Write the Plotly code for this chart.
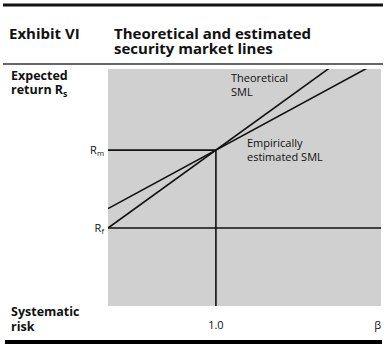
import plotly.graph_objects as go

# data (arbitrary units)
beta_m = 1.0
r_f = 1.0
r_m = 2.0
emp_intercept = 1.25
beta_end = 2.6
x_range = [0, 2.53]
y_range = [0, 3.04]
x_tickvals = [1.0, 2.5]
x_ticktext = ["1.0", "β"]
y_tickvals = [r_f, r_m]
y_ticktext = ["R<sub>f</sub>", "R<sub>m</sub>"]

W, H = 390, 352
L, R, T, B = 108, 381, 69, 306

def px(x):
    return (x - L) / (R - L)

def py(y):
    return (B - y) / (B - T)

theo_x = [0, beta_end]
theo_y = [r_f, r_f + (r_m - r_f) * beta_end]
emp_slope = (r_m - emp_intercept) / beta_m
emp_x = [0, beta_end]
emp_y = [emp_intercept, emp_intercept + emp_slope * beta_end]

line = dict(color="#111111", width=1.6)
fig = go.Figure()
fig.add_trace(go.Scatter(x=theo_x, y=theo_y, mode="lines", line=line))
fig.add_trace(go.Scatter(x=emp_x, y=emp_y, mode="lines", line=line))
fig.add_trace(go.Scatter(x=[0, beta_m, beta_m], y=[r_m, r_m, 0], mode="lines", line=line))
fig.add_trace(go.Scatter(x=[0, x_range[1]], y=[r_f, r_f], mode="lines", line=line))

bold = dict(family="Open Sans", size=15, color="#111111", weight="bold")
side = dict(family="Open Sans", size=12.5, color="#111111", weight="bold")
small = dict(family="Open Sans", size=11, color="#111111")

shapes = [
    dict(type="line", xref="paper", yref="paper", x0=px(3), x1=px(383), y0=py(5), y1=py(5),
         line=dict(color="#111111", width=3)),
    dict(type="line", xref="paper", yref="paper", x0=px(3), x1=px(383), y0=py(64), y1=py(64),
         line=dict(color="#333333", width=1.5)),
    dict(type="line", xref="paper", yref="paper", x0=px(5), x1=px(382), y0=py(342), y1=py(342),
         line=dict(color="#000000", width=4)),
]

ann = []
def add(text, x, y, font, xanchor="left"):
    ann.append(dict(text=text, x=px(x), y=py(y), xref="paper", yref="paper",
                    xanchor=xanchor, yanchor="middle", showarrow=False, font=font, align="left"))

add("Exhibit VI", 7, 33, bold)
add("Theoretical and estimated", 112, 33, bold)
add("security market lines", 112, 48, bold)
add("Expected", 9, 75, side)
add("return R<sub>s</sub>", 9, 90, side)
add("Systematic", 9, 311, side)
add("risk", 9, 326, side)
add("Theoretical", 229, 77, small)
add("SML", 229, 91, small)
add("Empirically", 245, 142, small)
add("estimated SML", 245, 156, small)

fig.update_layout(
    width=W, height=H,
    margin=dict(l=L, r=W - R, t=T, b=H - B, pad=0),
    paper_bgcolor="white", plot_bgcolor="#d0d0d0",
    showlegend=False,
    shapes=shapes, annotations=ann,
    xaxis=dict(range=x_range, showgrid=False, zeroline=False, showline=False, ticks="",
               tickvals=x_tickvals, ticktext=x_ticktext, tickfont=small, ticklabelstandoff=11,
               fixedrange=True),
    yaxis=dict(range=y_range, showgrid=False, zeroline=False, showline=False, ticks="",
               tickvals=y_tickvals, ticktext=y_ticktext, tickfont=small, ticklabelstandoff=3,
               fixedrange=True),
)
fig.write_html("out.html", config={"displayModeBar": False})
